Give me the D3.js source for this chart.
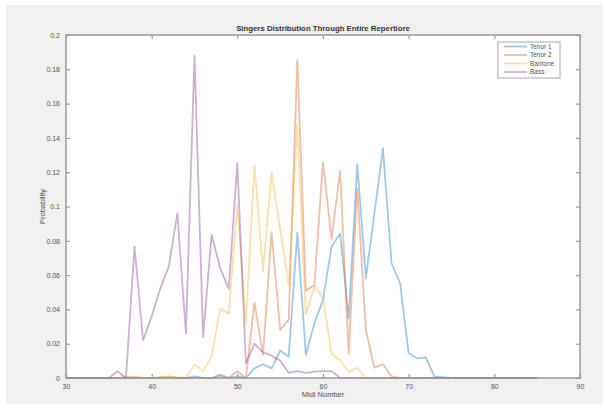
<!DOCTYPE html>
<html>
<head>
<meta charset="utf-8">
<script src="https://cdn.jsdelivr.net/npm/d3@7"></script>
<style>
	body { margin: 0; background: #ffffff; }
	svg { display: block; font-family: "Liberation Sans", Arial, sans-serif; }
</style>
</head>
<body>
<script>
// midi notes along the x axis
var midiNotes = [30, 31, 32, 33, 34, 35, 36, 37, 38, 39, 40, 41, 42, 43, 44, 45, 46, 47, 48, 49,
	50, 51, 52, 53, 54, 55, 56, 57, 58, 59, 60, 61, 62, 63, 64, 65, 66, 67, 68, 69,
	70, 71, 72, 73, 74, 75, 76, 77, 78, 79, 80, 81, 82, 83, 84, 85];

// probability per note
var tenor1 = [0, 0, 0, 0, 0, 0, 0, 0, 0, 0, 0, 0, 0, 0, 0, 0.001, 0, 0, 0.002, 0,
	0.001, 0, 0.0056, 0.008, 0.0056, 0.016, 0.0124, 0.0847, 0.0134, 0.032, 0.0455, 0.0766, 0.0843, 0.0348, 0.1248, 0.058, 0.096, 0.134, 0.0669, 0.0552,
	0.0144, 0.0115, 0.012, 0.001, 0.0005, 0, 0, 0, 0, 0, 0, 0, 0, 0, 0, 0];
var tenor2 = [0, 0, 0, 0, 0, 0, 0, 0.0005, 0.0005, 0, 0, 0.0005, 0.0008, 0, 0, 0, 0, 0, 0.001, 0,
	0.004, 0, 0.044, 0.0134, 0.085, 0.028, 0.034, 0.1855, 0.051, 0.054, 0.126, 0.081, 0.121, 0.0144, 0.1106, 0.028, 0.006, 0.008, 0.001, 0,
	0, 0, 0, 0, 0, 0, 0, 0, 0, 0, 0, 0, 0, 0, 0, 0];
var baritone = [0, 0, 0, 0, 0, 0, 0, 0, 0.0005, 0, 0, 0, 0.001, 0.0005, 0, 0.0078, 0.004, 0.0125, 0.0403, 0.0375,
	0.101, 0.032, 0.124, 0.062, 0.12, 0.087, 0.054, 0.1485, 0.037, 0.0535, 0.047, 0.014, 0.0105, 0.0035, 0.006, 0, 0, 0, 0, 0,
	0, 0, 0, 0, 0, 0, 0, 0, 0, 0, 0, 0, 0, 0, 0, 0];
var bass = [0, 0, 0, 0, 0, 0, 0.004, 0, 0.0766, 0.022, 0.036, 0.052, 0.065, 0.096, 0.026, 0.188, 0.024, 0.0835, 0.064, 0.052,
	0.1255, 0.0086, 0.02, 0.015, 0.013, 0.01, 0.003, 0.004, 0.003, 0.0037, 0.004, 0.004, 0, 0, 0, 0, 0, 0, 0, 0,
	0, 0, 0, 0, 0, 0, 0, 0, 0, 0, 0, 0, 0, 0, 0, 0];

var seriesNames = ["Tenor 1", "Tenor 2", "Baritone", "Bass"];
var seriesColors = ["#0072BD", "#D95319", "#EDB120", "#7E2F8E"];

var xTicks = [30, 40, 50, 60, 70, 80, 90];
var yTicks = [0, 0.02, 0.04, 0.06, 0.08, 0.1, 0.12, 0.14, 0.16, 0.18, 0.2];

var chartTitle = "Singers Distribution Through Entire Repertiore";
var xLabel = "Midi Number";
var yLabel = "Probability";

document.addEventListener("DOMContentLoaded", function () {
	var width = 603;
	var height = 404;
	var plot = { left: 66, right: 580, top: 35, bottom: 378 };

	var svg = d3.select("body").append("svg")
		.attr("width", width)
		.attr("height", height);

	// grey figure background, thin white strip at top/left like the screenshot
	svg.append("rect")
		.attr("x", 6).attr("y", 5)
		.attr("width", width - 6).attr("height", height - 5)
		.attr("fill", "#f0f0f0");

	svg.append("rect")
		.attr("x", plot.left).attr("y", plot.top)
		.attr("width", plot.right - plot.left).attr("height", plot.bottom - plot.top)
		.attr("fill", "#ffffff");

	var x = d3.scaleLinear().domain([30, 90]).range([plot.left, plot.right]);
	var y = d3.scaleLinear().domain([0, 0.2]).range([plot.bottom, plot.top]);

	var line = d3.line()
		.x(function (d) { return x(d.note); })
		.y(function (d) { return y(d.p); });

	var allSeries = [tenor1, tenor2, baritone, bass];

	// the lines (bass last so it sits on top)
	allSeries.forEach(function (values, i) {
		var pts = midiNotes.map(function (n, j) { return { note: n, p: values[j] }; });
		svg.append("path")
			.datum(pts)
			.attr("fill", "none")
			.attr("stroke", seriesColors[i])
			.attr("stroke-opacity", 0.38)
			.attr("stroke-width", 1.8)
			.attr("stroke-linejoin", "round")
			.attr("d", line);
	});

	var axisColor = "#9a9a9a";
	var tickColor = "#555555";

	// MATLAB style box with inward ticks
	function styleAxis(g, hideText) {
		g.select(".domain").remove();
		g.selectAll(".tick line").attr("stroke", axisColor).attr("stroke-width", 1.2);
		g.selectAll(".tick text")
			.attr("fill", tickColor)
			.style("font-size", "7px");
		if (hideText) g.selectAll(".tick text").remove();
	}

	svg.append("g")
		.attr("transform", "translate(0," + plot.bottom + ")")
		.call(d3.axisBottom(x).tickValues(xTicks).tickSize(-4).tickPadding(6))
		.call(styleAxis, false);

	svg.append("g")
		.attr("transform", "translate(0," + plot.top + ")")
		.call(d3.axisTop(x).tickValues(xTicks).tickSize(-4))
		.call(styleAxis, true);

	svg.append("g")
		.attr("transform", "translate(" + plot.left + ",0)")
		.call(d3.axisLeft(y).tickValues(yTicks).tickSize(-4).tickPadding(6)
			.tickFormat(function (d) { return +d.toFixed(2); }))
		.call(styleAxis, false);

	svg.append("g")
		.attr("transform", "translate(" + plot.right + ",0)")
		.call(d3.axisRight(y).tickValues(yTicks).tickSize(-4))
		.call(styleAxis, true);

	svg.append("rect")
		.attr("x", plot.left).attr("y", plot.top)
		.attr("width", plot.right - plot.left).attr("height", plot.bottom - plot.top)
		.attr("fill", "none")
		.attr("stroke", axisColor)
		.attr("stroke-width", 1.5);

	// title and axis labels
	svg.append("text")
		.attr("x", (plot.left + plot.right) / 2)
		.attr("y", 31)
		.attr("text-anchor", "middle")
		.attr("font-weight", "bold")
		.attr("font-size", "7.8px")
		.attr("fill", "#333333")
		.text(chartTitle);

	svg.append("text")
		.attr("x", (plot.left + plot.right) / 2)
		.attr("y", 397)
		.attr("text-anchor", "middle")
		.attr("font-size", "7.5px")
		.attr("fill", "#555555")
		.text(xLabel);

	svg.append("text")
		.attr("transform", "translate(45," + ((plot.top + plot.bottom) / 2) + ") rotate(-90)")
		.attr("text-anchor", "middle")
		.attr("font-size", "7.5px")
		.attr("fill", "#555555")
		.text(yLabel);

	// legend
	var legend = svg.append("g");
	legend.append("rect")
		.attr("x", 498).attr("y", 42)
		.attr("width", 62).attr("height", 36)
		.attr("fill", "#ffffff")
		.attr("stroke", "#aaaaaa")
		.attr("stroke-width", 1);

	seriesNames.forEach(function (name, i) {
		var ly = 46.5 + i * 8.5;
		legend.append("line")
			.attr("x1", 504).attr("x2", 527)
			.attr("y1", ly).attr("y2", ly)
			.attr("stroke", seriesColors[i])
			.attr("stroke-opacity", 0.38)
			.attr("stroke-width", 1.8);
		legend.append("text")
			.attr("x", 530).attr("y", ly + 2.3)
			.attr("font-size", "6.5px")
			.attr("fill", "#555555")
			.text(name);
	});
});
</script>
</body>
</html>
